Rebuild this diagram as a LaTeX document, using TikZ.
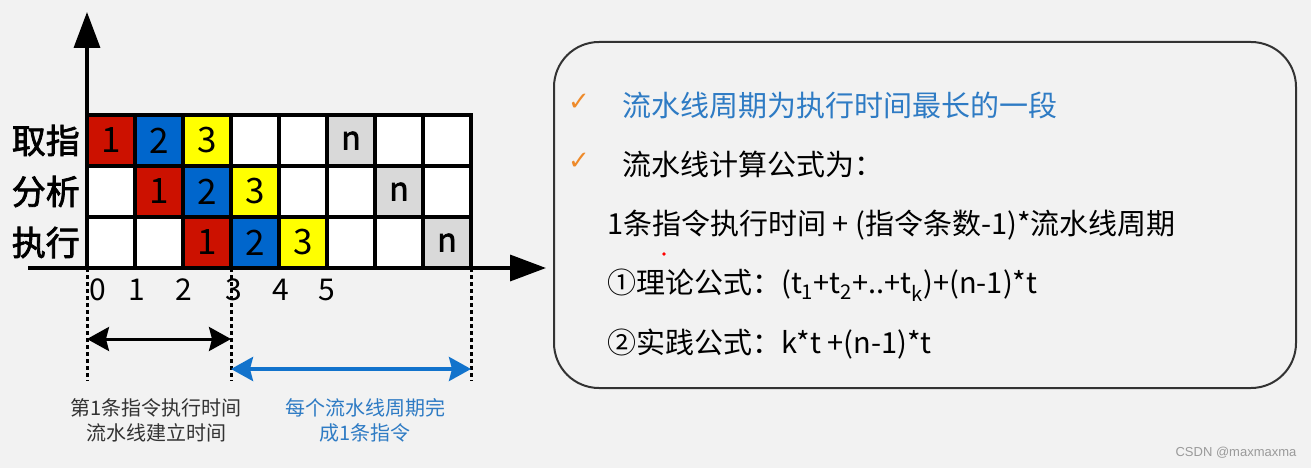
\documentclass[tikz,border=0pt]{standalone}
\usepackage{fontspec}
\setmainfont{Noto Sans CJK SC}
\newfontfamily\cjkbold[FakeBold=2.2]{Noto Sans CJK SC}
\newfontfamily\symfont{DejaVu Sans}
\newfontfamily\wmfont{Liberation Sans}
\usetikzlibrary{arrows.meta}
\definecolor{bg}{HTML}{F2F2F2}
\definecolor{cred}{HTML}{CC1100}
\definecolor{cblue}{HTML}{0066CC}
\definecolor{cyellow}{HTML}{FFFF00}
\definecolor{cgray}{HTML}{D9D9D9}
\definecolor{tblue}{HTML}{2E7BC4}
\definecolor{ablue}{HTML}{1273CC}
\definecolor{corange}{HTML}{EE8A2A}
\definecolor{tdark}{HTML}{333333}
\definecolor{wmgray}{HTML}{9A9A9A}
\begin{document}
\begin{tikzpicture}[x=1pt,y=-1pt,
  cell/.style={draw=black, line width=3.5pt, minimum width=48pt, minimum height=51pt,
    inner sep=0pt, outer sep=0pt, fill=white, font=\fontsize{35}{35}\selectfont},
  ncell/.style={cell, fill=cgray, font=\cjkbold\fontsize{32}{32}\selectfont},
  rowlabel/.style={anchor=east, inner sep=0pt, font=\cjkbold\fontsize{34}{34}\selectfont},
  ticklabel/.style={inner sep=0pt, font=\fontsize{30}{30}\selectfont},
  axis/.style={line width=3.5pt, -{Triangle[length=36pt,width=26pt]}},
  guide/.style={line width=3pt, dash pattern=on 3.5pt off 3.5pt},
  span/.style={line width=3pt, {Stealth[length=22pt,width=24pt,inset=3pt]}-{Stealth[length=22pt,width=24pt,inset=3pt]}},
  note/.style={align=center, inner sep=0pt, font=\fontsize{20}{25}\selectfont},
  boxtext/.style={anchor=west, inner sep=0pt, font=\fontsize{29}{29}\selectfont},
  check/.style={inner sep=0pt, text=corange, font=\symfont\fontsize{26}{26}\selectfont}]
\fill[bg] (0,0) rectangle (1311,468);
\useasboundingbox (0,0) rectangle (1311,468);

% grid cells
\foreach \r in {0,1,2}{
  \foreach \c in {0,...,7}{
    \node[cell] (c-\r-\c) at ({87+48*\c+24},{115+51*\r+25.5}) {};
  }
}
% filled cells
\node[cell, fill=cred] (f-0-0) at (c-0-0) {1};
\node[cell, fill=cblue] (f-0-1) at (c-0-1) {2};
\node[cell, fill=cyellow] (f-0-2) at (c-0-2) {3};
\node[ncell] (f-0-5) at (c-0-5) {n};
\node[cell, fill=cred] (f-1-1) at (c-1-1) {1};
\node[cell, fill=cblue] (f-1-2) at (c-1-2) {2};
\node[cell, fill=cyellow] (f-1-3) at (c-1-3) {3};
\node[ncell] (f-1-6) at (c-1-6) {n};
\node[cell, fill=cred] (f-2-2) at (c-2-2) {1};
\node[cell, fill=cblue] (f-2-3) at (c-2-3) {2};
\node[cell, fill=cyellow] (f-2-4) at (c-2-4) {3};
\node[ncell] (f-2-7) at (c-2-7) {n};

% row labels
\node[rowlabel] (l0) at (80,140.5) {取指};
\node[rowlabel] (l1) at (80,191.5) {分析};
\node[rowlabel] (l2) at (80,242.5) {执行};

% axes
\coordinate (O) at (87,268);
\coordinate (ytip) at (87,12);
\coordinate (xstart) at (28,268);
\coordinate (xtip) at (546,268);
\draw[axis] (O) -- (ytip);
\draw[axis] (xstart) -- (xtip);

% tick labels
\node[ticklabel] (t0) at (98,290) {0};
\node[ticklabel] (t1) at (137,290) {1};
\node[ticklabel] (t2) at (184,290) {2};
\node[ticklabel] (t3) at (234,290) {3};
\node[ticklabel] (t4) at (281,290) {4};
\node[ticklabel] (t5) at (327,290) {5};

% dotted guides
\coordinate (g0a) at (87,268);  \coordinate (g0b) at (87,381);
\coordinate (g1a) at (231,268); \coordinate (g1b) at (231,381);
\coordinate (g2a) at (471,268); \coordinate (g2b) at (471,381);
\draw[guide] (g0a) -- (g0b);
\draw[guide] (g1a) -- (g1b);
\draw[guide] (g2a) -- (g2b);

% spans
\coordinate (s1a) at (87,339);  \coordinate (s1b) at (231,339);
\coordinate (s2a) at (231,369); \coordinate (s2b) at (471,369);
\draw[span] (s1a) -- (s1b);
\draw[span, draw=ablue, fill=ablue, line width=3.5pt] (s2a) -- (s2b);

\node[note, text=tdark] (n1) at (156,420.5) {第1条指令执行时间\\流水线建立时间};
\node[note, text=tblue] (n2) at (365,420.5) {每个流水线周期完\\成1条指令};

% right panel
\node[draw=tdark, line width=2pt, rounded corners=45pt, minimum width=742pt, minimum height=346pt, inner sep=0pt] (panel) at (925,215) {};
\node[check] (k1) at (579,102) {✓};
\node[check] (k2) at (579,161) {✓};
\node[boxtext, text=tblue] (b1) at (622,105) {流水线周期为执行时间最长的一段};
\node[boxtext] (b2) at (622,164) {流水线计算公式为：};
\node[boxtext] (b3) at (607,225) {1条指令执行时间 + (指令条数-1)*流水线周期};
\node[boxtext] (b4) at (607,285) {①理论公式：(t\textsubscript{1}+t\textsubscript{2}+..+t\textsubscript{k})+(n-1)*t};
\node[boxtext] (b5) at (607,344) {②实践公式：k*t +(n-1)*t};
\fill[red] (664,254) circle (1.8pt);

\node[inner sep=0pt, text=wmgray, font=\wmfont\fontsize{13}{13}\selectfont] (wm) at (1236,453) {CSDN @maxmaxma};
\end{tikzpicture}
\end{document}
